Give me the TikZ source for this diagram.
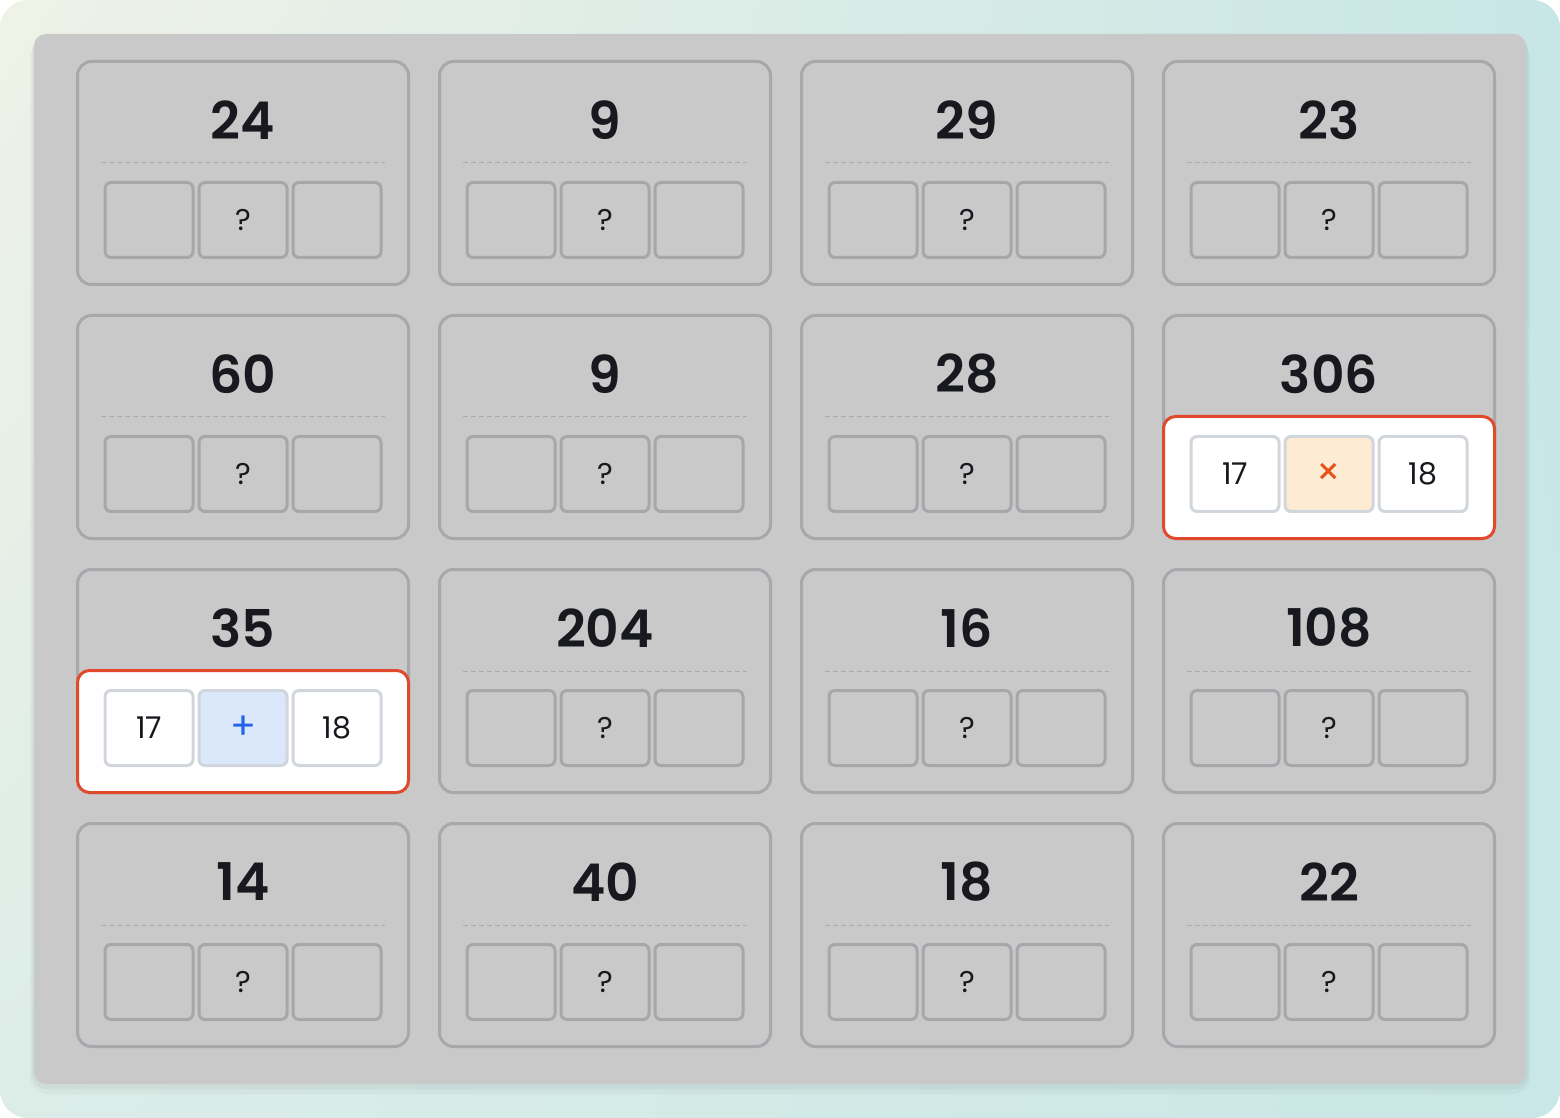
\documentclass[tikz,border=0pt]{standalone}
\usepackage{fontspec}
\setmainfont{Poppins}[BoldFont={Poppins SemiBold}]
\usetikzlibrary{positioning,calc,shadings}

\definecolor{bgul}{HTML}{EFF2E7}
\definecolor{bgur}{HTML}{C7E6E6}
\definecolor{bgll}{HTML}{DCEDE8}
\definecolor{bglr}{HTML}{C9E7E6}
\definecolor{panel}{HTML}{C9C9C9}
\definecolor{cardline}{HTML}{A7A8AC}
\definecolor{slotline}{HTML}{A6A7AA}
\definecolor{dashline}{HTML}{A9AAAC}
\definecolor{ink}{HTML}{17191E}
\definecolor{hot}{HTML}{E0492B}
\definecolor{pickline}{HTML}{D1D5DC}
\definecolor{plusbg}{HTML}{DBE7FA}
\definecolor{plusink}{HTML}{2563EB}
\definecolor{timesbg}{HTML}{FDEBD3}
\definecolor{timesink}{HTML}{E5531A}

\tikzset{
  card/.style={draw=cardline, line width=1.5pt, rounded corners=7pt,
    minimum width=165.5pt, minimum height=111.5pt},
  sum/.style={font=\fontsize{26}{26}\selectfont\bfseries, text=ink},
  slot/.style={draw=slotline, line width=1.5pt, rounded corners=3pt, inner sep=0pt,
    minimum width=44pt, minimum height=37.5pt, font=\fontsize{15}{15}\selectfont, text=ink},
  pick/.style={slot, draw=pickline, fill=white},
  picked/.style={draw=hot, fill=white, line width=1.5pt, rounded corners=6pt},
  divider/.style={draw=dashline, line width=0.5pt, dash pattern=on 2.5pt off 1.5pt}
}

\begin{document}
\begin{tikzpicture}[x=0.5pt, y=-0.5pt, node distance=1.5pt]
  \useasboundingbox (0,0) rectangle (1560,1118);
  \fill[white] (0,0) rectangle (1560,1118);
  \shade[rounded corners=14pt, upper left=bgul, upper right=bgur,
    lower left=bgll, lower right=bglr] (0,0) rectangle (1560,1118);
  \fill[black, opacity=.03, rounded corners=9pt] (30,40) rectangle (1530,1094);
  \fill[black, opacity=.03, rounded corners=7pt] (32,36) rectangle (1528,1089);
  \fill[panel, rounded corners=6pt] (34,34) rectangle (1526,1084);

  \foreach \num [count=\k from 0] in {24,9,29,23,60,9,28,306,35,204,16,108,14,40,18,22} {
    \pgfmathtruncatemacro{\col}{mod(\k,4)}
    \pgfmathtruncatemacro{\row}{\k/4}
    \pgfmathsetmacro{\cx}{243+362*\col}
    \pgfmathsetmacro{\cy}{60+254*\row}
    \node[card] (card\k) at (\cx,\cy+113) {};
    \node[sum] (sum\k) at (\cx,\cy+60) {\num};
    \draw[divider] (\cx-142,\cy+103) -- (\cx+142,\cy+103);
    \ifnum\k=7 \else\ifnum\k=8 \else
      \node[slot] (mid\k) at (\cx,\cy+160) {?};
      \node[slot, left=of mid\k] (lft\k) {};
      \node[slot, right=of mid\k] (rgt\k) {};
    \fi\fi
  }

  % 306 = 17 x 18
  \draw[picked] ([shift={(1.5,-1.5)}]card7.south west) rectangle ([shift={(-1.5,-123.5)}]card7.south east);
  \node[pick, fill=timesbg, text=timesink, font=\fontsize{19}{19}\selectfont] (mid7) at ($(card7.center)+(0,47)$) {×};
  \node[pick, left=of mid7] (lft7) {17};
  \node[pick, right=of mid7] (rgt7) {18};

  % 35 = 17 + 18
  \draw[picked] ([shift={(1.5,-1.5)}]card8.south west) rectangle ([shift={(-1.5,-123.5)}]card8.south east);
  \node[pick, fill=plusbg, text=plusink, font=\fontsize{19}{19}\selectfont] (mid8) at ($(card8.center)+(0,47)$) {+};
  \node[pick, left=of mid8] (lft8) {17};
  \node[pick, right=of mid8] (rgt8) {18};
\end{tikzpicture}
\end{document}
